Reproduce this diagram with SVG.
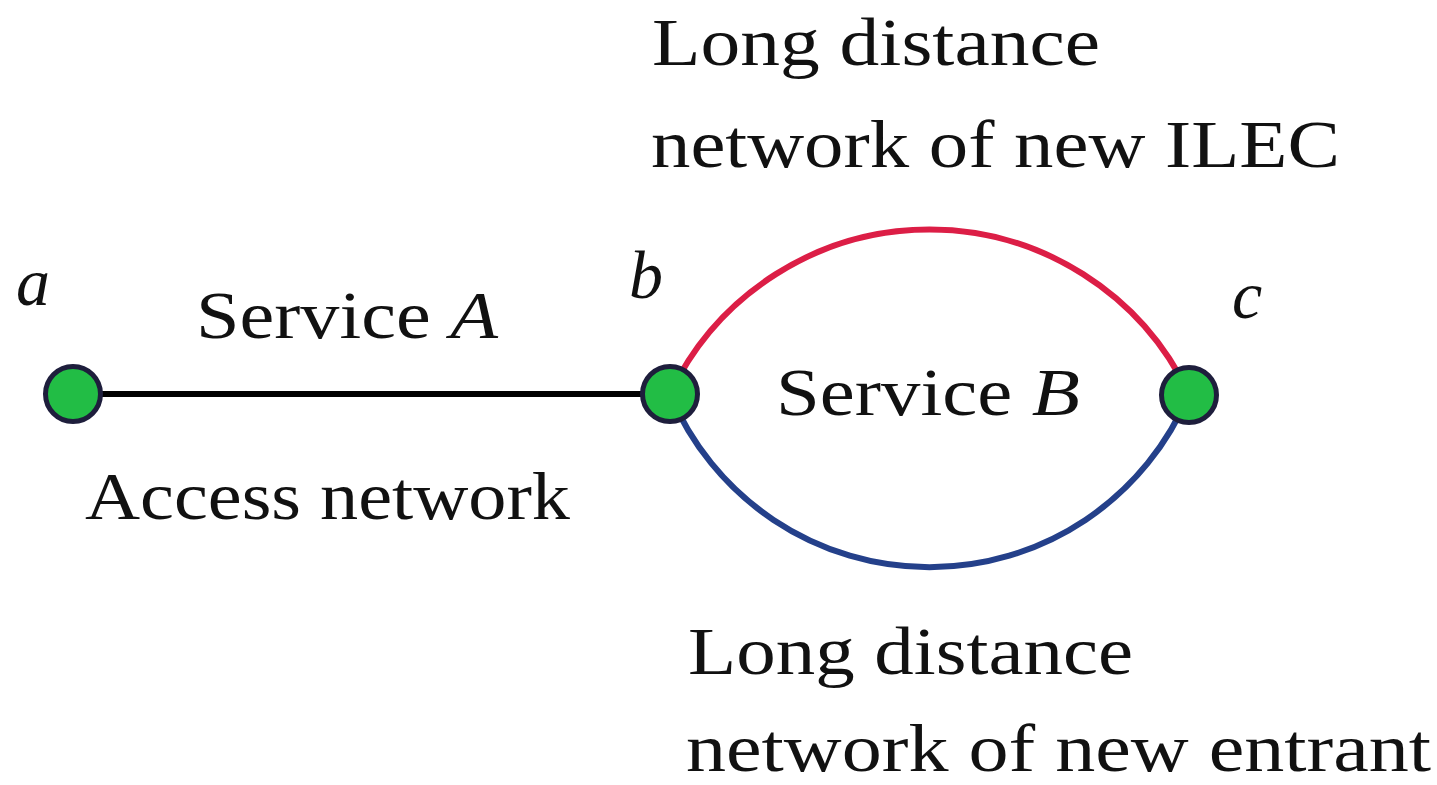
<svg xmlns="http://www.w3.org/2000/svg" width="1437" height="785" viewBox="0 0 1437 785">
<style>
.t{font-family:"Liberation Serif","DejaVu Serif",serif;font-size:68px;fill:#111}
.i{font-style:italic}
.node{fill:#22BD45;stroke:#1E1E3C;stroke-width:5}
.edge{fill:none;stroke-width:6}
</style>
<rect width="1437" height="785" fill="#fff"/>
<g id="connectors">
<line class="edge" x1="73" y1="394" x2="670" y2="394" stroke="#000"/>
<path class="edge" d="M670,394 A287,287 0 0 1 1189,394" stroke="#DC1E46"/>
<path class="edge" d="M670,394 A281,281 0 0 0 1189,394" stroke="#24408A"/>
</g>
<g id="node-a"><circle class="node" cx="73" cy="394" r="27.5"/><text class="t i" x="16" y="305">a</text></g>
<g id="node-b"><circle class="node" cx="670" cy="394" r="27.5"/><text class="t i" x="629" y="298">b</text></g>
<g id="node-c"><circle class="node" cx="1189" cy="395" r="27.5"/><text class="t i" x="1232" y="318">c</text></g>
<g id="labels">
<text class="t" x="196" y="338" textLength="302" lengthAdjust="spacingAndGlyphs">Service <tspan class="i">A</tspan></text>
<text class="t" x="776" y="415" textLength="304" lengthAdjust="spacingAndGlyphs">Service <tspan class="i">B</tspan></text>
<text class="t" x="85" y="519" textLength="485" lengthAdjust="spacingAndGlyphs">Access network</text>
<text class="t" x="652" y="65" textLength="448" lengthAdjust="spacingAndGlyphs">Long distance</text>
<text class="t" x="651" y="167" textLength="689" lengthAdjust="spacingAndGlyphs">network of new ILEC</text>
<text class="t" x="688" y="674" textLength="445" lengthAdjust="spacingAndGlyphs">Long distance</text>
<text class="t" x="686" y="771" textLength="745" lengthAdjust="spacingAndGlyphs">network of new entrant</text>
</g>
</svg>
